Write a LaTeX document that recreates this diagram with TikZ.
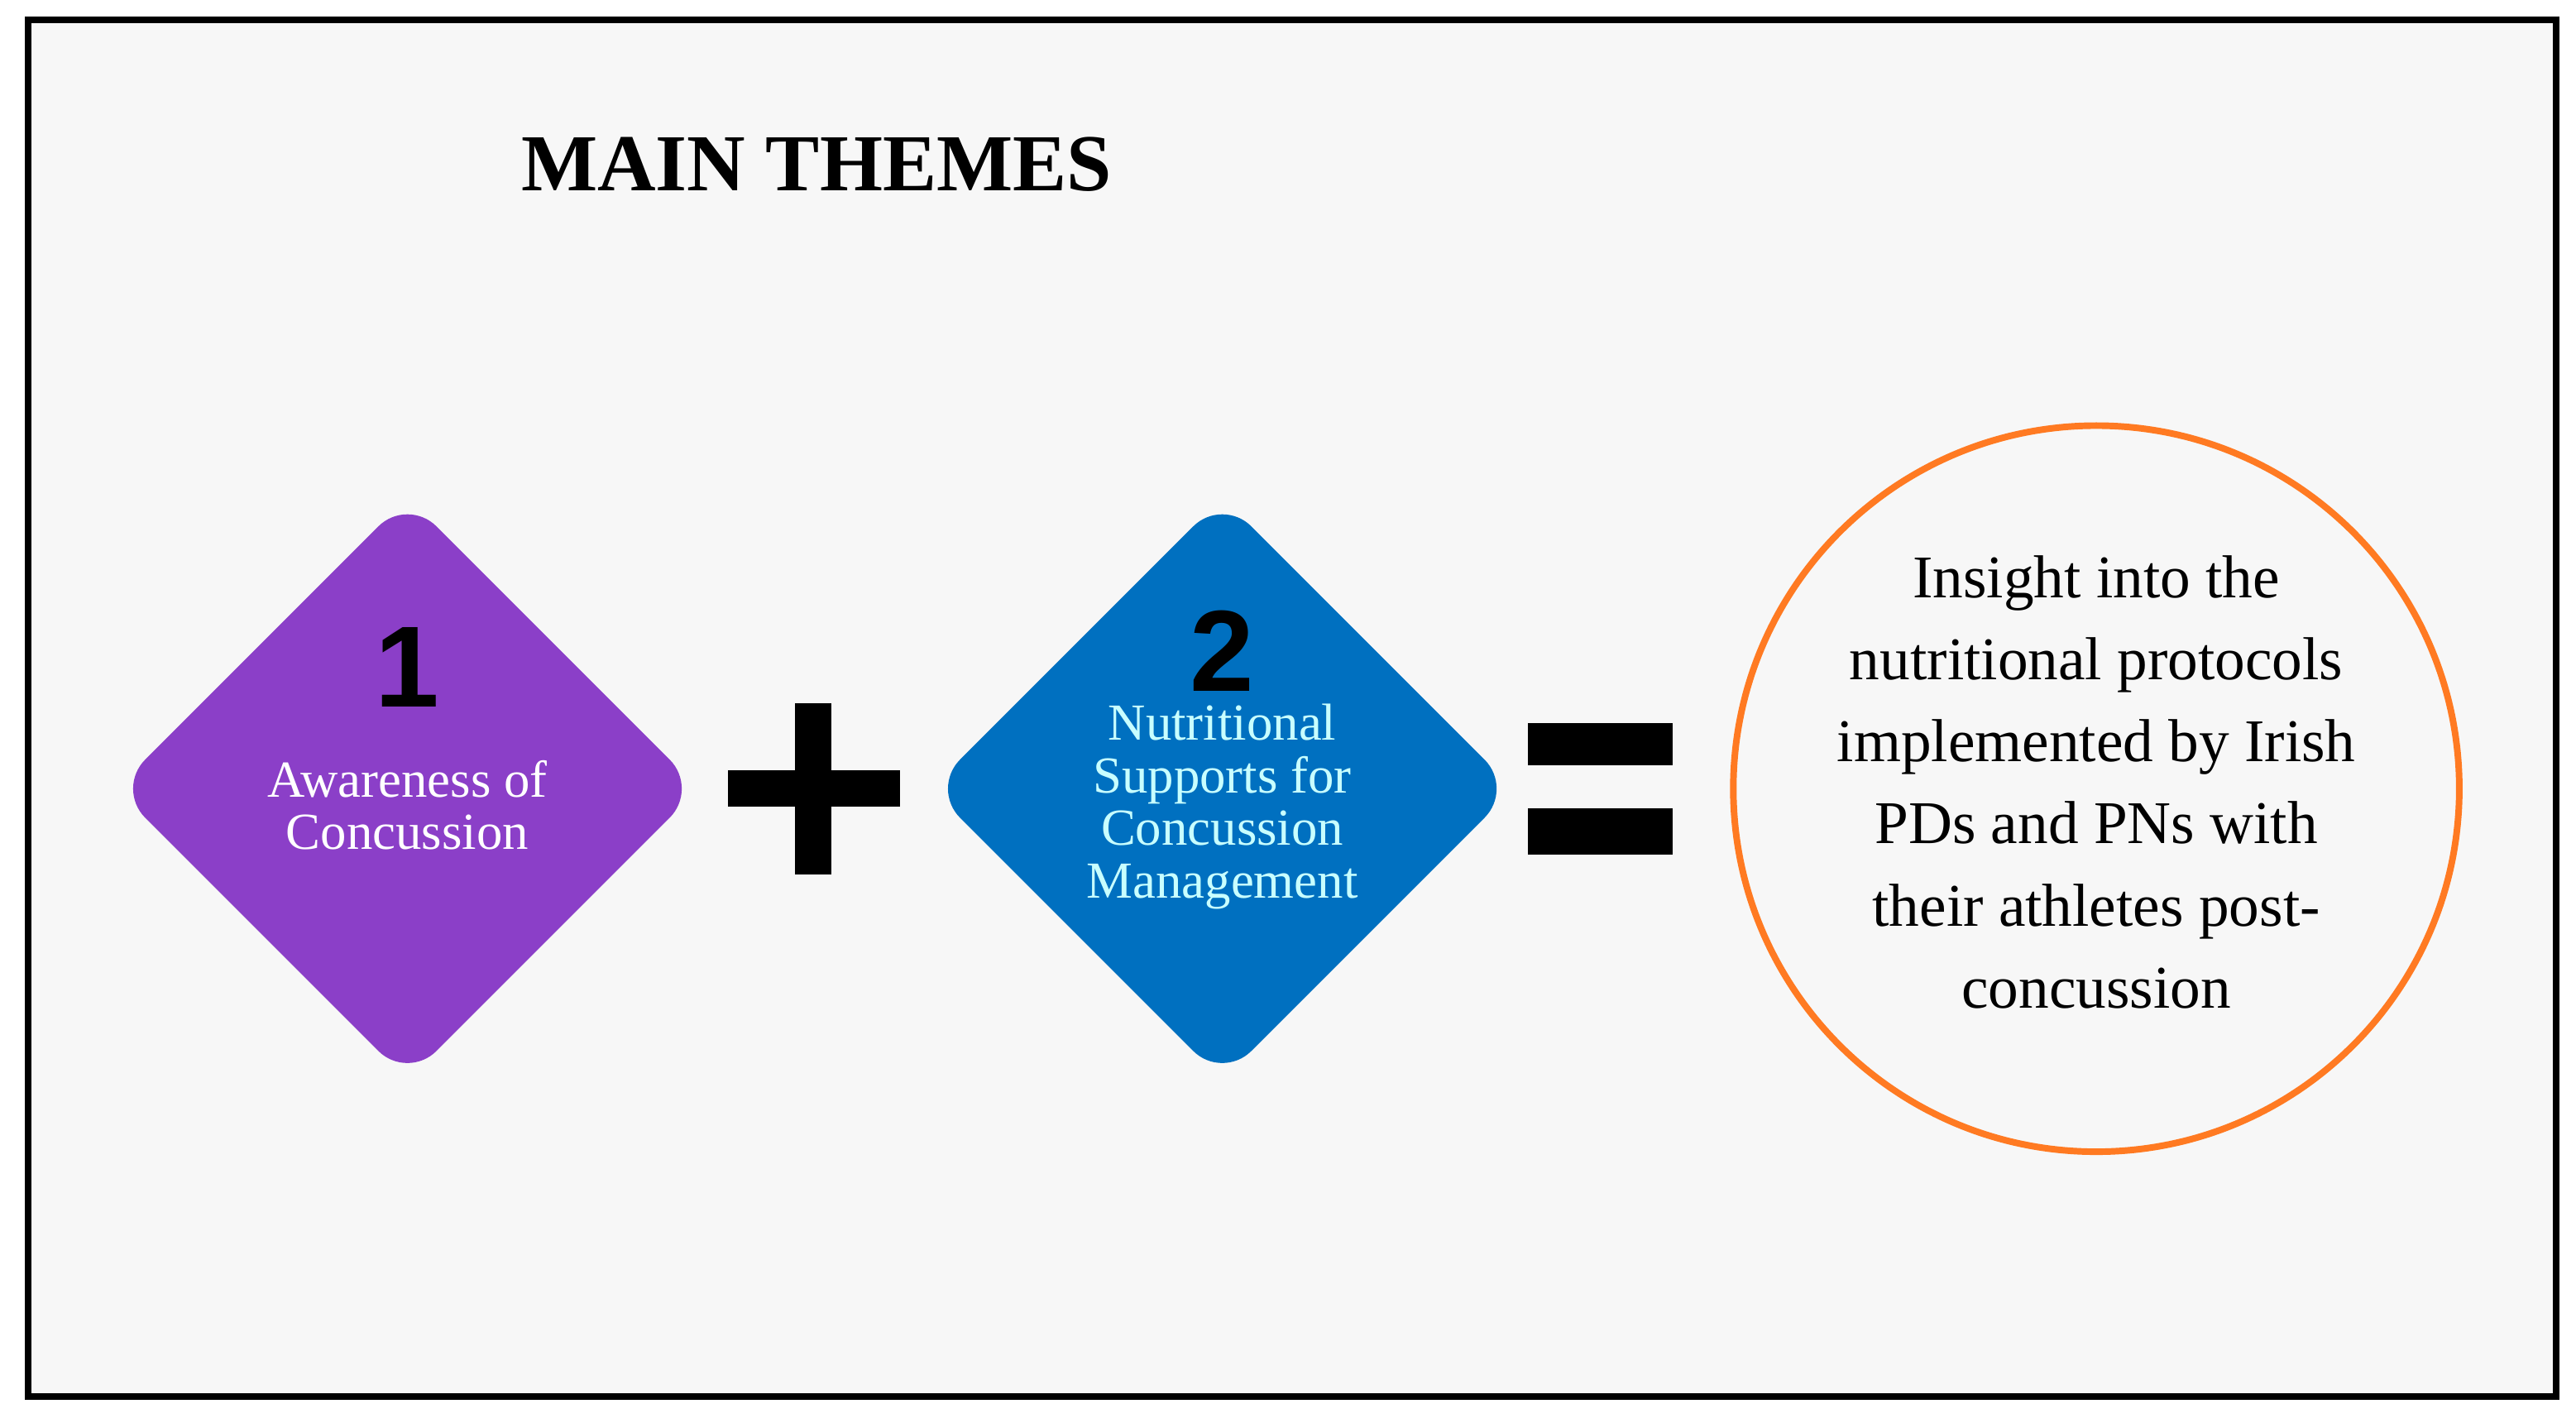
\documentclass[tikz,border=0pt]{standalone}
\usepackage{fontspec}
\setmainfont{Liberation Serif}
\newfontfamily\numfont{Liberation Sans}
\usetikzlibrary{shapes.geometric}
\definecolor{bg}{HTML}{F7F7F7}
\definecolor{purp}{HTML}{8B3FC8}
\definecolor{blu}{HTML}{0070C0}
\definecolor{cya}{HTML}{C8FFFF}
\definecolor{ora}{HTML}{FF7A22}
\begin{document}
\begin{tikzpicture}[x=0.02cm,y=-0.02cm,
  dia/.style={diamond,minimum width=7.1cm,minimum height=7.1cm,rounded corners=0.5cm,inner sep=0pt,aspect=1},
  num/.style={font=\numfont\bfseries\fontsize{40}{40}\selectfont},
  dtext/.style={align=center,font=\fontsize{18}{18.2}\selectfont},
  bar/.style={fill=black,draw=none}]
\useasboundingbox (0,0) rectangle (1568,866);
\fill[white] (0,0) rectangle (1568,866);
\draw[line width=0.08cm,fill=bg] (17,12) rectangle (1556,850);
\node (title) at (497,100) {\fontsize{28}{30}\selectfont\bfseries MAIN THEMES};
\node[dia,fill=purp] (d1) at (248,480) {};
\node[num] (n1) at (248,406) {1};
\node[dtext,text=white] (t1) at (248,490) {Awareness of\\Concussion};
\fill[bar] (443,469) rectangle (548,491);
\fill[bar] (484,428) rectangle (506,532);
\node[dia,fill=blu] (d2) at (744,480) {};
\node[num] (n2) at (744,396) {2};
\node[dtext,text=cya] (t2) at (744,491) {Nutritional\\Supports for\\Concussion\\Management};
\fill[bar] (930,440) rectangle (1018,466);
\fill[bar] (930,492) rectangle (1018,520);
\node[circle,draw=ora,line width=0.08cm,minimum size=8.84cm,fill=bg] (c) at (1276,480) {};
\node[align=center,font=\fontsize{21}{28.4}\selectfont] (ct) at (1276,476) {Insight into the\\nutritional protocols\\implemented by Irish\\PDs and PNs with\\their athletes post-\\concussion};
\end{tikzpicture}
\end{document}
